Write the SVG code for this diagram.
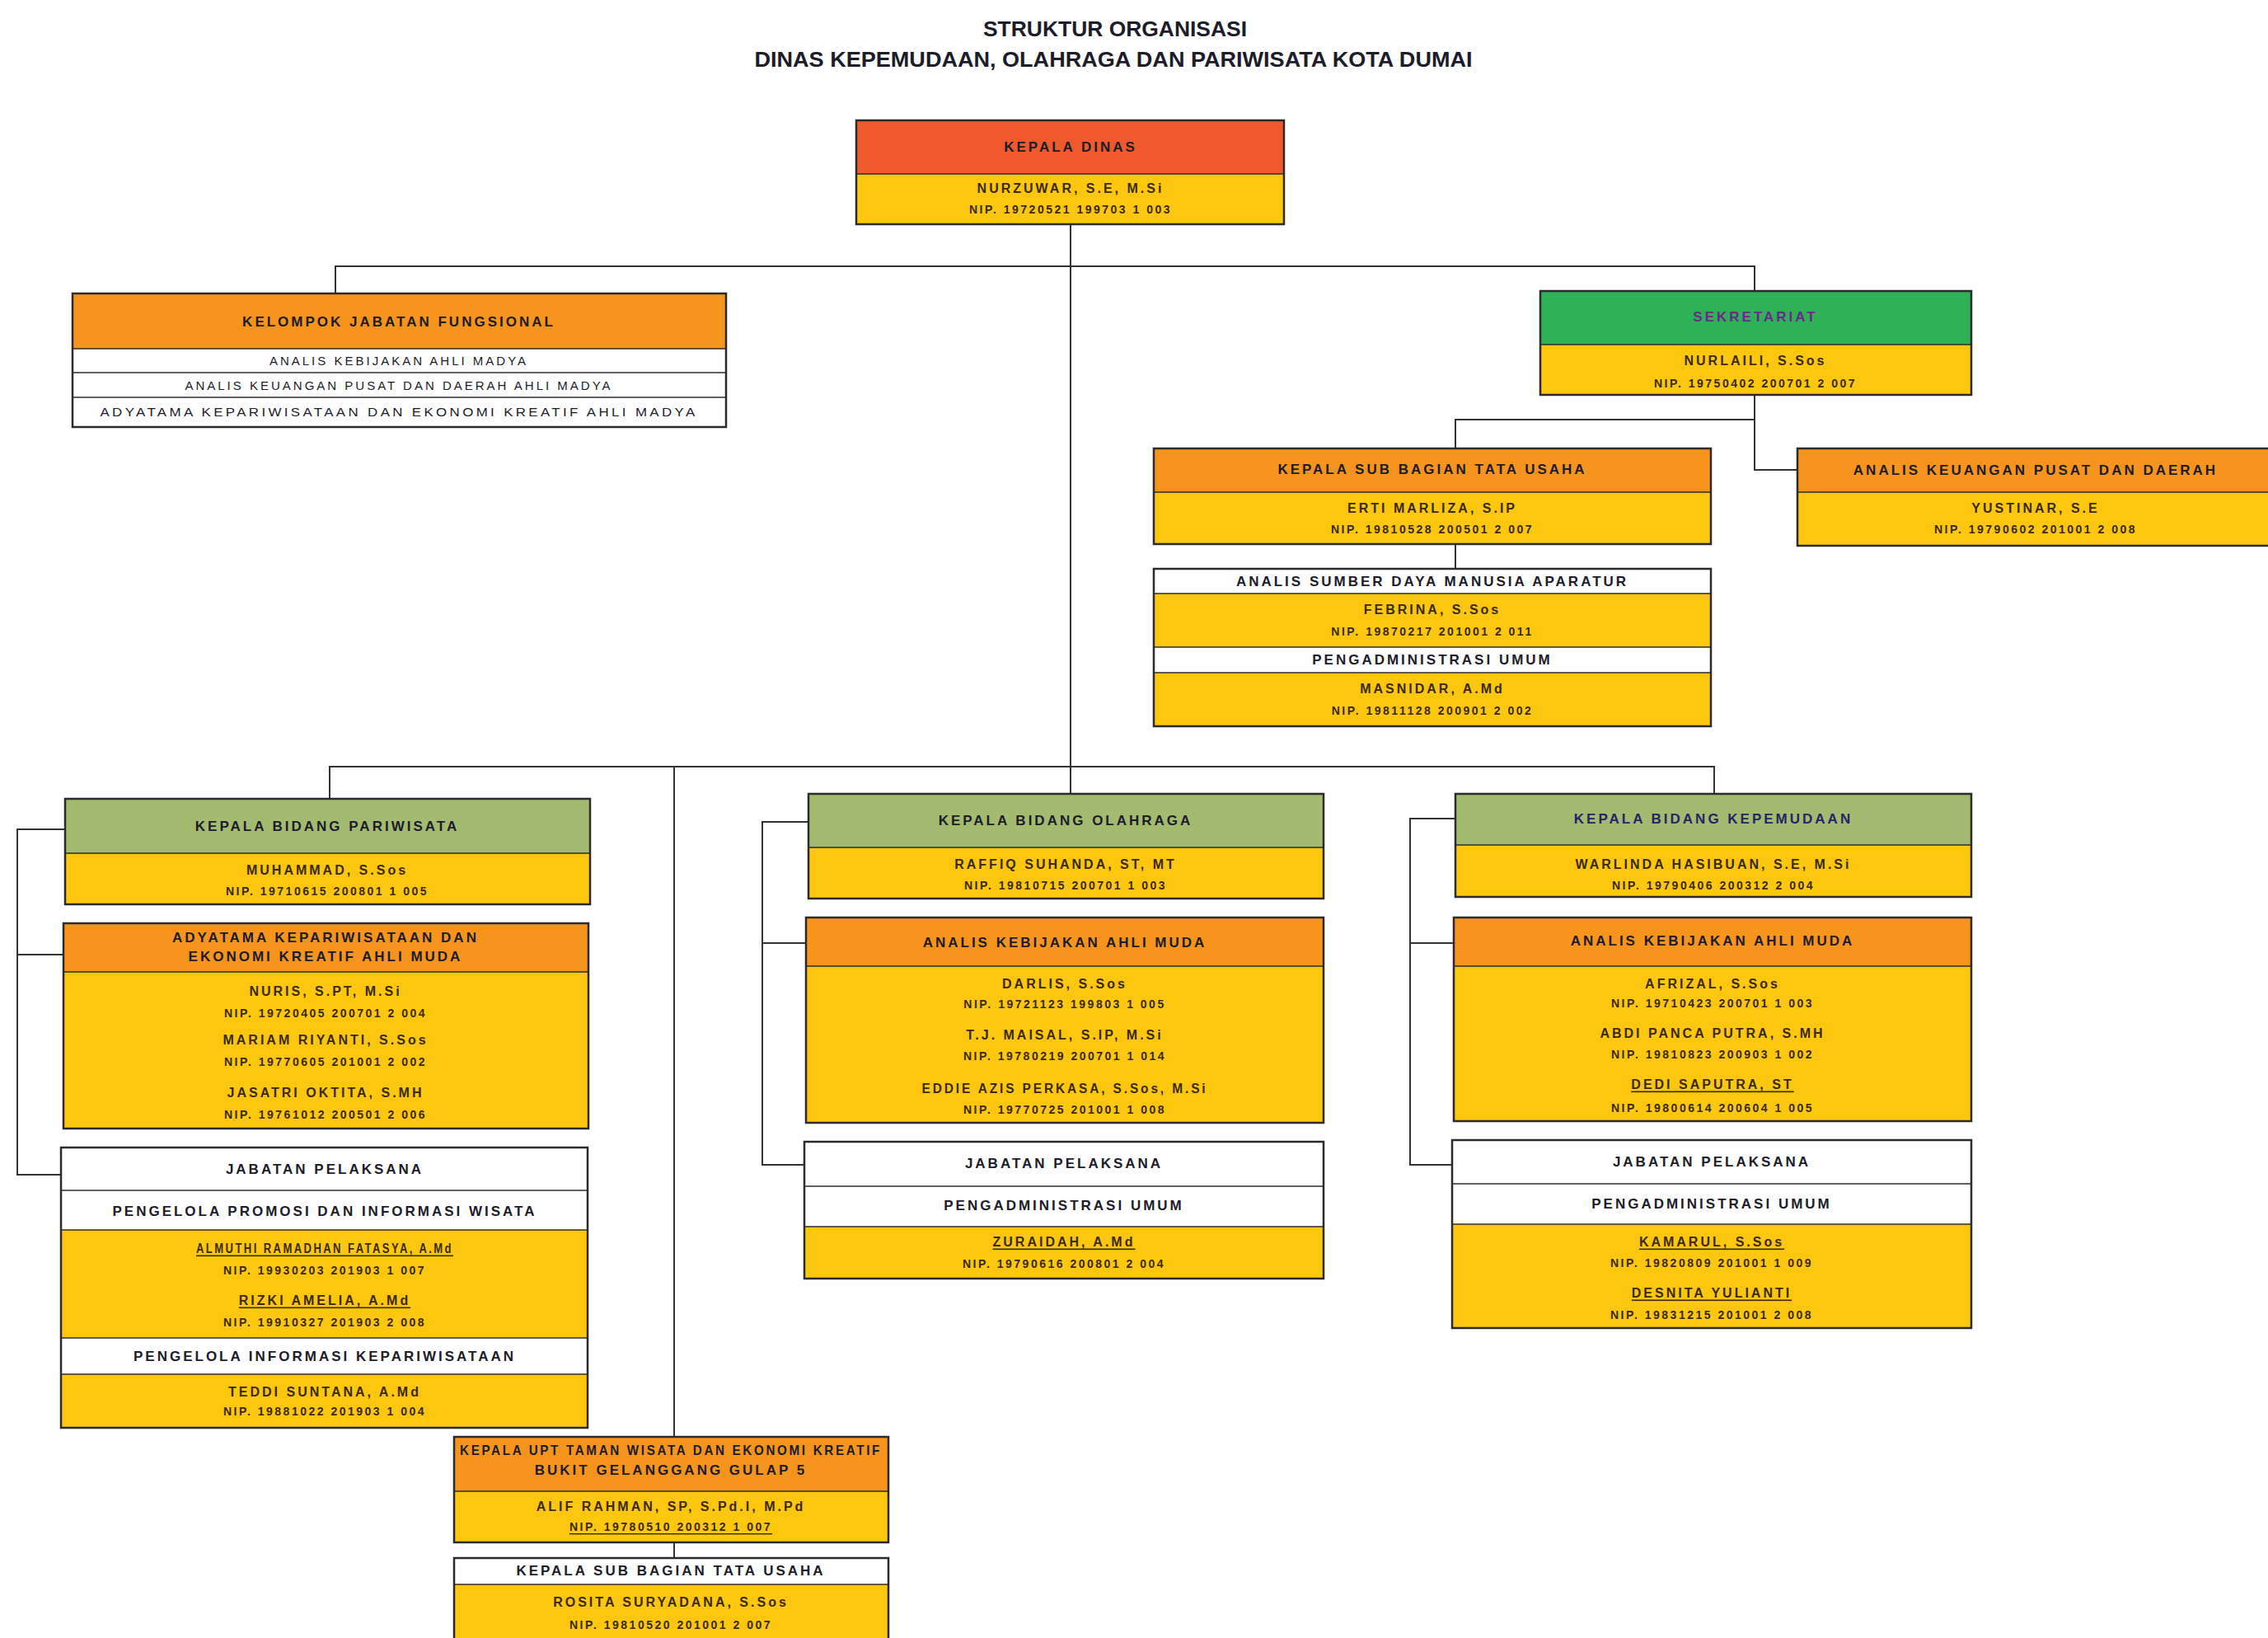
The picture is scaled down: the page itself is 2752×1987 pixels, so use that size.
<svg xmlns="http://www.w3.org/2000/svg" width="2752" height="1987" viewBox="0 0 2752 1987">
<style>
text{font-family:"Liberation Sans",Arial,sans-serif;text-anchor:middle;dominant-baseline:central;fill:#1c1c2a}
.t{font-size:25px;font-weight:900}
.h{font-size:17px;font-weight:700;letter-spacing:3px}
.n{font-size:16px;font-weight:700;fill:#3a2a08;letter-spacing:3px}
.p{font-size:14px;font-weight:700;fill:#3a2a08;letter-spacing:2.5px}
.r{font-size:15px;letter-spacing:3px}
.red{fill:#ee5a2b}.org{fill:#f7941e}.yel{fill:#fdc70f}.grn{fill:#2fb157}.olv{fill:#a3bb6e}.wht{fill:#fff}
.b{fill:none;stroke:#2b2b2b;stroke-width:2.5}
.d{stroke:#2b2b2b;stroke-width:1.5}
#conn path{fill:none;stroke:#333;stroke-width:2}
</style>
<rect width="2752" height="1987" fill="#fff"/>
<g id="title">
<text class="t" x="1353" y="35" textLength="320" lengthAdjust="spacingAndGlyphs">STRUKTUR ORGANISASI</text>
<text class="t" x="1351" y="72" textLength="871" lengthAdjust="spacingAndGlyphs">DINAS KEPEMUDAAN, OLAHRAGA DAN PARIWISATA KOTA DUMAI</text>
</g>
<g id="conn">
<path d="M1299 272V930"/>
<path d="M407 356V323H2129V353"/>
<path d="M2129 479V570H2181"/>
<path d="M1766 544V509H2129"/>
<path d="M1766 660V690"/>
<path d="M400 969V930H2080V963"/>
<path d="M1299 930V963"/>
<path d="M818 930V1743"/>
<path d="M818 1871V1890"/>
<path d="M79 1006H21V1425H74M21 1158H77"/>
<path d="M981 997H925V1413H976M925 1144H978"/>
<path d="M1766 993H1711V1413H1762M1711 1144H1764"/>
</g>
<g id="kepala-dinas">
<rect class="red" x="1039" y="146" width="519" height="65"/>
<rect class="yel" x="1039" y="211" width="519" height="61"/>
<line class="d" x1="1039" y1="211" x2="1558" y2="211"/>
<rect class="b" x="1039" y="146" width="519" height="126"/>
<text class="h" x="1299" y="178">KEPALA DINAS</text>
<text class="n" x="1299" y="228">NURZUWAR, S.E, M.Si</text>
<text class="p" x="1299" y="254">NIP. 19720521 199703 1 003</text>
</g>
<g id="kelompok-jabatan-fungsional">
<rect class="org" x="88" y="356" width="793" height="67"/>
<rect class="wht" x="88" y="423" width="793" height="95"/>
<line class="d" x1="88" y1="423" x2="881" y2="423"/>
<line class="d" x1="88" y1="452" x2="881" y2="452"/>
<line class="d" x1="88" y1="482" x2="881" y2="482"/>
<rect class="b" x="88" y="356" width="793" height="162"/>
<text class="h" x="484" y="390">KELOMPOK JABATAN FUNGSIONAL</text>
<text class="r" x="484" y="437">ANALIS KEBIJAKAN AHLI MADYA</text>
<text class="r" x="484" y="467">ANALIS KEUANGAN PUSAT DAN DAERAH AHLI MADYA</text>
<text class="r" x="484" y="499" textLength="725" lengthAdjust="spacingAndGlyphs">ADYATAMA KEPARIWISATAAN DAN EKONOMI KREATIF AHLI MADYA</text>
</g>
<g id="sekretariat">
<rect class="grn" x="1869" y="353" width="523" height="65"/>
<rect class="yel" x="1869" y="418" width="523" height="61"/>
<line class="d" x1="1869" y1="418" x2="2392" y2="418"/>
<rect class="b" x="1869" y="353" width="523" height="126"/>
<text class="h" x="2130" y="384" style="fill:#6a2a8a">SEKRETARIAT</text>
<text class="n" x="2130" y="437">NURLAILI, S.Sos</text>
<text class="p" x="2130" y="465">NIP. 19750402 200701 2 007</text>
</g>
<g id="kasubbag-tu">
<rect class="org" x="1400" y="544" width="676" height="53"/>
<rect class="yel" x="1400" y="597" width="676" height="63"/>
<line class="d" x1="1400" y1="597" x2="2076" y2="597"/>
<rect class="b" x="1400" y="544" width="676" height="116"/>
<text class="h" x="1738" y="569">KEPALA SUB BAGIAN TATA USAHA</text>
<text class="n" x="1738" y="616">ERTI MARLIZA, S.IP</text>
<text class="p" x="1738" y="642">NIP. 19810528 200501 2 007</text>
</g>
<g id="analis-keuangan">
<rect class="org" x="2181" y="544" width="580" height="53"/>
<rect class="yel" x="2181" y="597" width="580" height="65"/>
<line class="d" x1="2181" y1="597" x2="2761" y2="597"/>
<rect class="b" x="2181" y="544" width="580" height="118"/>
<text class="h" x="2470" y="570">ANALIS KEUANGAN PUSAT DAN DAERAH</text>
<text class="n" x="2470" y="616">YUSTINAR, S.E</text>
<text class="p" x="2470" y="642">NIP. 19790602 201001 2 008</text>
</g>
<g id="analis-sdm">
<rect class="wht" x="1400" y="690" width="676" height="30"/>
<rect class="yel" x="1400" y="720" width="676" height="65"/>
<rect class="wht" x="1400" y="785" width="676" height="31"/>
<rect class="yel" x="1400" y="816" width="676" height="65"/>
<line class="d" x1="1400" y1="720" x2="2076" y2="720"/>
<line class="d" x1="1400" y1="785" x2="2076" y2="785"/>
<line class="d" x1="1400" y1="816" x2="2076" y2="816"/>
<rect class="b" x="1400" y="690" width="676" height="191"/>
<text class="h" x="1738" y="705">ANALIS SUMBER DAYA MANUSIA APARATUR</text>
<text class="n" x="1738" y="739">FEBRINA, S.Sos</text>
<text class="p" x="1738" y="766">NIP. 19870217 201001 2 011</text>
<text class="h" x="1738" y="800">PENGADMINISTRASI UMUM</text>
<text class="n" x="1738" y="835">MASNIDAR, A.Md</text>
<text class="p" x="1738" y="862">NIP. 19811128 200901 2 002</text>
</g>
<g id="kabid-pariwisata">
<rect class="olv" x="79" y="969" width="637" height="66"/>
<rect class="yel" x="79" y="1035" width="637" height="62"/>
<line class="d" x1="79" y1="1035" x2="716" y2="1035"/>
<rect class="b" x="79" y="969" width="637" height="128"/>
<text class="h" x="397" y="1002">KEPALA BIDANG PARIWISATA</text>
<text class="n" x="397" y="1055">MUHAMMAD, S.Sos</text>
<text class="p" x="397" y="1081">NIP. 19710615 200801 1 005</text>
</g>
<g id="adyatama-pariwisata">
<rect class="org" x="77" y="1120" width="637" height="59"/>
<rect class="yel" x="77" y="1179" width="637" height="190"/>
<line class="d" x1="77" y1="1179" x2="714" y2="1179"/>
<rect class="b" x="77" y="1120" width="637" height="249"/>
<text class="h" x="395" y="1137">ADYATAMA KEPARIWISATAAN DAN</text>
<text class="h" x="395" y="1160">EKONOMI KREATIF AHLI MUDA</text>
<text class="n" x="395" y="1202">NURIS, S.PT, M.Si</text>
<text class="p" x="395" y="1229">NIP. 19720405 200701 2 004</text>
<text class="n" x="395" y="1261">MARIAM RIYANTI, S.Sos</text>
<text class="p" x="395" y="1288">NIP. 19770605 201001 2 002</text>
<text class="n" x="395" y="1325">JASATRI OKTITA, S.MH</text>
<text class="p" x="395" y="1352">NIP. 19761012 200501 2 006</text>
</g>
<g id="pelaksana-pariwisata">
<rect class="wht" x="74" y="1392" width="639" height="100"/>
<rect class="yel" x="74" y="1492" width="639" height="131"/>
<rect class="wht" x="74" y="1623" width="639" height="44"/>
<rect class="yel" x="74" y="1667" width="639" height="65"/>
<line class="d" x1="74" y1="1444" x2="713" y2="1444"/>
<line class="d" x1="74" y1="1492" x2="713" y2="1492"/>
<line class="d" x1="74" y1="1623" x2="713" y2="1623"/>
<line class="d" x1="74" y1="1667" x2="713" y2="1667"/>
<rect class="b" x="74" y="1392" width="639" height="340"/>
<text class="h" x="394" y="1418">JABATAN PELAKSANA</text>
<text class="h" x="394" y="1469">PENGELOLA PROMOSI DAN INFORMASI WISATA</text>
<text class="n" x="394" y="1514" text-decoration="underline" textLength="312" lengthAdjust="spacingAndGlyphs">ALMUTHI RAMADHAN FATASYA, A.Md</text>
<text class="p" x="394" y="1541">NIP. 19930203 201903 1 007</text>
<text class="n" x="394" y="1577" text-decoration="underline">RIZKI AMELIA, A.Md</text>
<text class="p" x="394" y="1604">NIP. 19910327 201903 2 008</text>
<text class="h" x="394" y="1645">PENGELOLA INFORMASI KEPARIWISATAAN</text>
<text class="n" x="394" y="1688">TEDDI SUNTANA, A.Md</text>
<text class="p" x="394" y="1712">NIP. 19881022 201903 1 004</text>
</g>
<g id="kabid-olahraga">
<rect class="olv" x="981" y="963" width="625" height="65"/>
<rect class="yel" x="981" y="1028" width="625" height="62"/>
<line class="d" x1="981" y1="1028" x2="1606" y2="1028"/>
<rect class="b" x="981" y="963" width="625" height="127"/>
<text class="h" x="1293" y="995">KEPALA BIDANG OLAHRAGA</text>
<text class="n" x="1293" y="1048">RAFFIQ SUHANDA, ST, MT</text>
<text class="p" x="1293" y="1074">NIP. 19810715 200701 1 003</text>
</g>
<g id="analis-olahraga">
<rect class="org" x="978" y="1113" width="628" height="59"/>
<rect class="yel" x="978" y="1172" width="628" height="190"/>
<line class="d" x1="978" y1="1172" x2="1606" y2="1172"/>
<rect class="b" x="978" y="1113" width="628" height="249"/>
<text class="h" x="1292" y="1143">ANALIS KEBIJAKAN AHLI MUDA</text>
<text class="n" x="1292" y="1193">DARLIS, S.Sos</text>
<text class="p" x="1292" y="1218">NIP. 19721123 199803 1 005</text>
<text class="n" x="1292" y="1255">T.J. MAISAL, S.IP, M.Si</text>
<text class="p" x="1292" y="1281">NIP. 19780219 200701 1 014</text>
<text class="n" x="1292" y="1320" textLength="347" lengthAdjust="spacingAndGlyphs">EDDIE AZIS PERKASA, S.Sos, M.Si</text>
<text class="p" x="1292" y="1346">NIP. 19770725 201001 1 008</text>
</g>
<g id="pelaksana-olahraga">
<rect class="wht" x="976" y="1385" width="630" height="103"/>
<rect class="yel" x="976" y="1488" width="630" height="63"/>
<line class="d" x1="976" y1="1439" x2="1606" y2="1439"/>
<line class="d" x1="976" y1="1488" x2="1606" y2="1488"/>
<rect class="b" x="976" y="1385" width="630" height="166"/>
<text class="h" x="1291" y="1411">JABATAN PELAKSANA</text>
<text class="h" x="1291" y="1462">PENGADMINISTRASI UMUM</text>
<text class="n" x="1291" y="1506" text-decoration="underline">ZURAIDAH, A.Md</text>
<text class="p" x="1291" y="1533">NIP. 19790616 200801 2 004</text>
</g>
<g id="kabid-kepemudaan">
<rect class="olv" x="1766" y="963" width="626" height="62"/>
<rect class="yel" x="1766" y="1025" width="626" height="63"/>
<line class="d" x1="1766" y1="1025" x2="2392" y2="1025"/>
<rect class="b" x="1766" y="963" width="626" height="125"/>
<text class="h" x="2079" y="993" style="fill:#25256a">KEPALA BIDANG KEPEMUDAAN</text>
<text class="n" x="2079" y="1048">WARLINDA HASIBUAN, S.E, M.Si</text>
<text class="p" x="2079" y="1074">NIP. 19790406 200312 2 004</text>
</g>
<g id="analis-kepemudaan">
<rect class="org" x="1764" y="1113" width="628" height="59"/>
<rect class="yel" x="1764" y="1172" width="628" height="188"/>
<line class="d" x1="1764" y1="1172" x2="2392" y2="1172"/>
<rect class="b" x="1764" y="1113" width="628" height="247"/>
<text class="h" x="2078" y="1141">ANALIS KEBIJAKAN AHLI MUDA</text>
<text class="n" x="2078" y="1193">AFRIZAL, S.Sos</text>
<text class="p" x="2078" y="1217">NIP. 19710423 200701 1 003</text>
<text class="n" x="2078" y="1253">ABDI PANCA PUTRA, S.MH</text>
<text class="p" x="2078" y="1279">NIP. 19810823 200903 1 002</text>
<text class="n" x="2078" y="1315" text-decoration="underline">DEDI SAPUTRA, ST</text>
<text class="p" x="2078" y="1344">NIP. 19800614 200604 1 005</text>
</g>
<g id="pelaksana-kepemudaan">
<rect class="wht" x="1762" y="1383" width="630" height="102"/>
<rect class="yel" x="1762" y="1485" width="630" height="126"/>
<line class="d" x1="1762" y1="1436" x2="2392" y2="1436"/>
<line class="d" x1="1762" y1="1485" x2="2392" y2="1485"/>
<rect class="b" x="1762" y="1383" width="630" height="228"/>
<text class="h" x="2077" y="1409">JABATAN PELAKSANA</text>
<text class="h" x="2077" y="1460">PENGADMINISTRASI UMUM</text>
<text class="n" x="2077" y="1506" text-decoration="underline">KAMARUL, S.Sos</text>
<text class="p" x="2077" y="1532">NIP. 19820809 201001 1 009</text>
<text class="n" x="2077" y="1568" text-decoration="underline">DESNITA YULIANTI</text>
<text class="p" x="2077" y="1595">NIP. 19831215 201001 2 008</text>
</g>
<g id="kepala-upt">
<rect class="org" x="551" y="1743" width="527" height="66"/>
<rect class="yel" x="551" y="1809" width="527" height="62"/>
<line class="d" x1="551" y1="1809" x2="1078" y2="1809"/>
<rect class="b" x="551" y="1743" width="527" height="128"/>
<text class="h" x="814" y="1759" textLength="512" lengthAdjust="spacingAndGlyphs">KEPALA UPT TAMAN WISATA DAN EKONOMI KREATIF</text>
<text class="h" x="814" y="1783">BUKIT GELANGGANG GULAP 5</text>
<text class="n" x="814" y="1827">ALIF RAHMAN, SP, S.Pd.I, M.Pd</text>
<text class="p" x="814" y="1852" text-decoration="underline">NIP. 19780510 200312 1 007</text>
</g>
<g id="kasubbag-tu-upt">
<rect class="wht" x="551" y="1890" width="527" height="32"/>
<rect class="yel" x="551" y="1922" width="527" height="75"/>
<line class="d" x1="551" y1="1922" x2="1078" y2="1922"/>
<rect class="b" x="551" y="1890" width="527" height="107"/>
<text class="h" x="814" y="1905">KEPALA SUB BAGIAN TATA USAHA</text>
<text class="n" x="814" y="1943">ROSITA SURYADANA, S.Sos</text>
<text class="p" x="814" y="1971">NIP. 19810520 201001 2 007</text>
</g>
</svg>
